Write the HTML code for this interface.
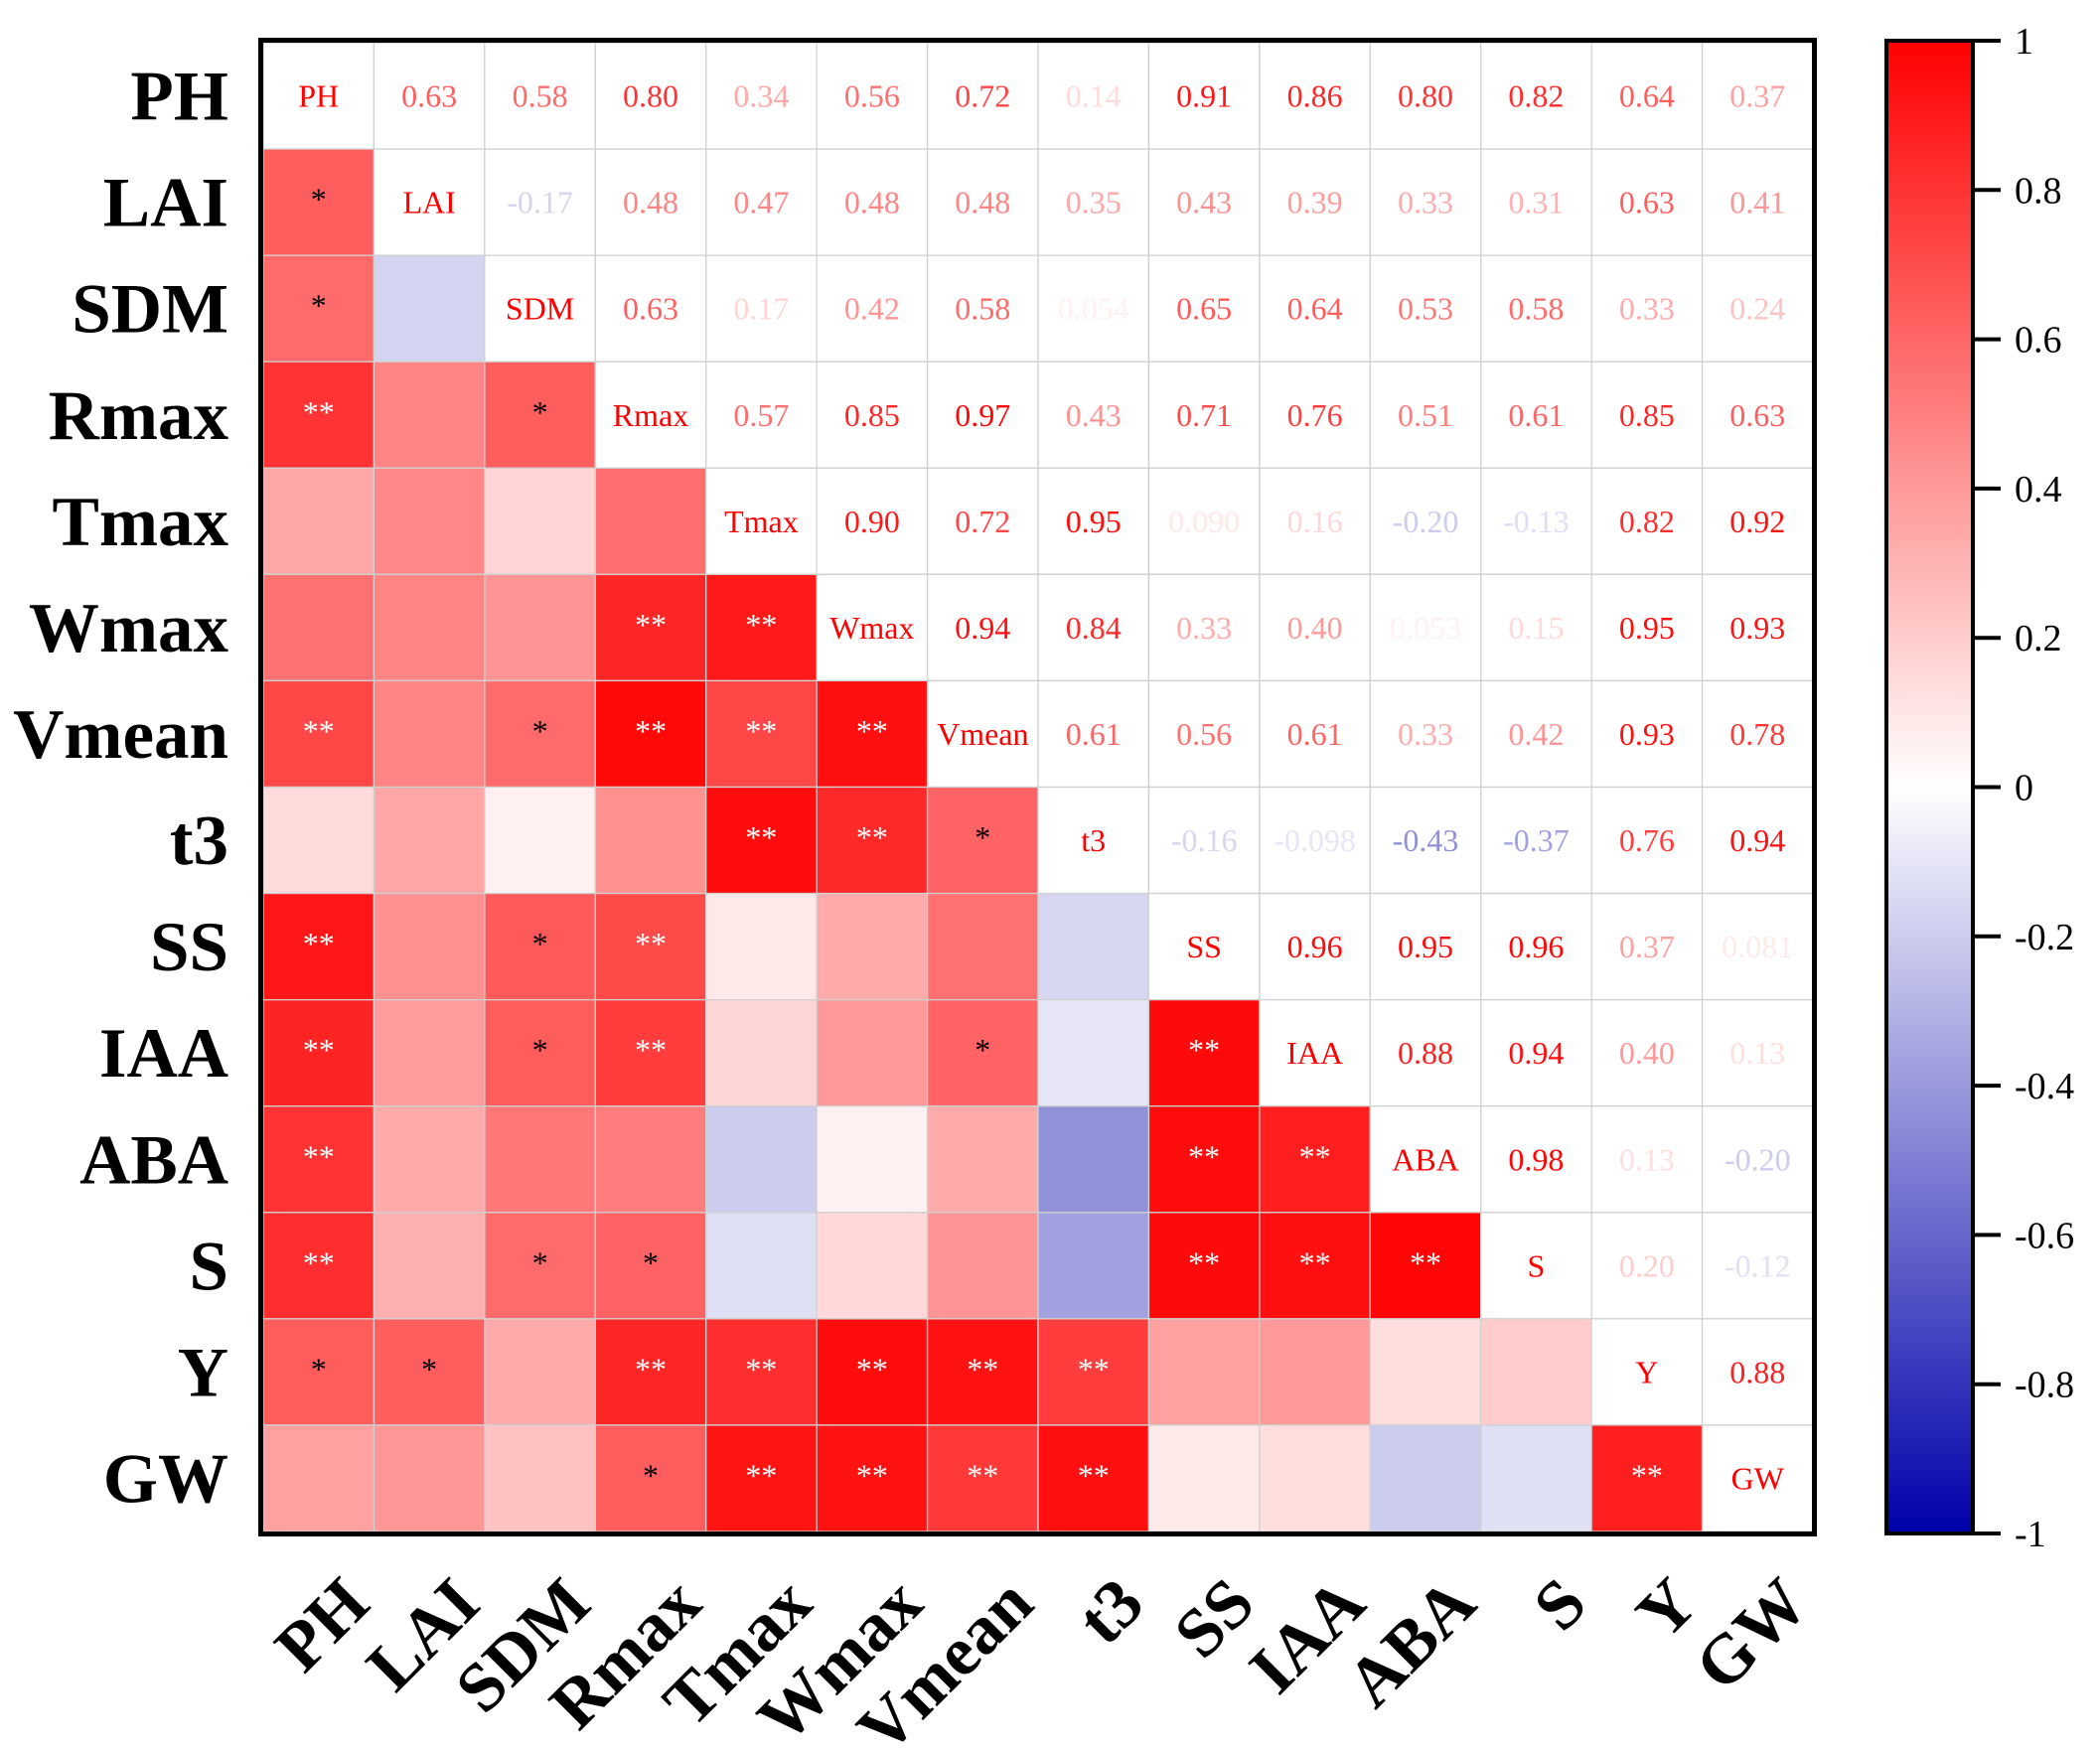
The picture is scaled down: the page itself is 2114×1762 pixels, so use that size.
<!DOCTYPE html>
<html><head><meta charset="utf-8">
<style>
html,body{margin:0;padding:0;background:#fff;}
svg{display:block;font-family:"Liberation Serif",serif;}
</style></head>
<body>
<svg id="chart" width="2114" height="1762" viewBox="0 0 2114 1762">
  <defs>
    <linearGradient id="cbar" x1="0" y1="0" x2="0" y2="1">
      <stop offset="0" stop-color="rgb(255,0,0)"/>
      <stop offset="0.5" stop-color="rgb(255,255,255)"/>
      <stop offset="1" stop-color="rgb(0,0,170)"/>
    </linearGradient>
  </defs>
  <g id="cells"></g>
  <g id="labels"></g>
  <rect x="262.5" y="40.5" width="1564" height="1504" fill="none" stroke="#000" stroke-width="5"/>
  <g id="colorbar">
    <rect x="1899" y="41" width="87" height="1503" fill="url(#cbar)" stroke="#000" stroke-width="4"/>
  </g>
</svg>
<script>
const vars = ["PH","LAI","SDM","Rmax","Tmax","Wmax","Vmean","t3","SS","IAA","ABA","S","Y","GW"];
const upperRows = [
  ["0.63","0.58","0.80","0.34","0.56","0.72","0.14","0.91","0.86","0.80","0.82","0.64","0.37"],
  ["-0.17","0.48","0.47","0.48","0.48","0.35","0.43","0.39","0.33","0.31","0.63","0.41"],
  ["0.63","0.17","0.42","0.58","0.054","0.65","0.64","0.53","0.58","0.33","0.24"],
  ["0.57","0.85","0.97","0.43","0.71","0.76","0.51","0.61","0.85","0.63"],
  ["0.90","0.72","0.95","0.090","0.16","-0.20","-0.13","0.82","0.92"],
  ["0.94","0.84","0.33","0.40","0.053","0.15","0.95","0.93"],
  ["0.61","0.56","0.61","0.33","0.42","0.93","0.78"],
  ["-0.16","-0.098","-0.43","-0.37","0.76","0.94"],
  ["0.96","0.95","0.96","0.37","0.081"],
  ["0.88","0.94","0.40","0.13"],
  ["0.98","0.13","-0.20"],
  ["0.20","-0.12"],
  ["0.88"]
];
// significance stars for lower triangle: [row, col, stars]
const stars = [
  [1,0,"*"],[2,0,"*"],[3,0,"**"],[3,2,"*"],[5,3,"**"],[5,4,"**"],
  [6,0,"**"],[6,2,"*"],[6,3,"**"],[6,4,"**"],[6,5,"**"],
  [7,4,"**"],[7,5,"**"],[7,6,"*"],
  [8,0,"**"],[8,2,"*"],[8,3,"**"],
  [9,0,"**"],[9,2,"*"],[9,3,"**"],[9,6,"*"],[9,8,"**"],
  [10,0,"**"],[10,8,"**"],[10,9,"**"],
  [11,0,"**"],[11,2,"*"],[11,3,"*"],[11,8,"**"],[11,9,"**"],[11,10,"**"],
  [12,0,"*"],[12,1,"*"],[12,3,"**"],[12,4,"**"],[12,5,"**"],[12,6,"**"],[12,7,"**"],
  [13,3,"*"],[13,4,"**"],[13,5,"**"],[13,6,"**"],[13,7,"**"],[13,12,"**"]
];
const cbTicks = [1,0.8,0.6,0.4,0.2,0,-0.2,-0.4,-0.6,-0.8,-1];

const NS="http://www.w3.org/2000/svg";
const X0=265, Y0=43, CW=(1825-265)/14, CH=(1542-43)/14;
const xPos = j => X0 + j*CW;
const yPos = i => Y0 + i*CH;
function color(v){
  let r,g,b;
  if(v>=0){r=255;g=Math.round(255*(1-v));b=g;}
  else{const t=-v;r=Math.round(255*(1-t));g=r;b=Math.round(255-85*t);}
  return `rgb(${r},${g},${b})`;
}
function val(i,j){ if(i===j) return 1; const a=Math.min(i,j), b=Math.max(i,j); return parseFloat(upperRows[a][b-a-1]); }
function mk(tag, attrs, parent){ const e=document.createElementNS(NS,tag); for(const k in attrs) e.setAttribute(k,attrs[k]); parent.appendChild(e); return e; }

const cells=document.getElementById('cells');
const labels=document.getElementById('labels');
const n=vars.length;
for(let i=0;i<n;i++){
  for(let j=0;j<n;j++){
    const v=val(i,j);
    const fill = (i>j)? color(v) : "#fff";
    const r=mk('rect',{x:xPos(j),y:yPos(i),width:CW,height:CH,fill:fill,stroke:"#d0d0d0","stroke-width":1.3},cells);
    
    
    if(i<=j){
      const txt = (i===j)? vars[i] : upperRows[i][j-i-1];
      const t=mk('text',{x:xPos(j)+CW/2,y:yPos(i)+CH/2+11,"text-anchor":"middle","font-size":32,fill:(i===j)?"rgb(255,0,0)":color(v)},cells);
      t.textContent=txt;
      
      
    }
  }
}
stars.forEach(s=>{
  const v=val(s[0],s[1]);
  const t=mk('text',{x:xPos(s[1])+CW/2,y:yPos(s[0])+CH/2+8,"text-anchor":"middle","font-size":32,fill:(v>0.7)?"#fff":"#000"},cells);
  t.textContent=s[2];
  
  
});
vars.forEach((name,i)=>{
  const t=mk('text',{x:230,y:yPos(i)+CH/2+24,"text-anchor":"end","font-size":71,"font-weight":"bold",fill:"#000"},labels);
  t.textContent=name;
  
  
  const cx=xPos(i)+CW/2+54, cy=1618;
  const c=mk('text',{x:cx,y:cy,"text-anchor":"end","font-size":70,"font-weight":"bold",fill:"#000",transform:`rotate(-45 ${cx} ${cy})`},labels);
  c.textContent=name;
  
  
});
const cb=document.getElementById('colorbar');
const cbY = v => 41 + (1-v)/2*1503;
cbTicks.forEach(v=>{
  const y=cbY(v);
  const l=mk('line',{x1:1986,x2:2014,y1:y,y2:y,stroke:"#000","stroke-width":4},cb);
  
  
  const t=mk('text',{x:2028,y:y+13,"font-size":38,fill:"#000"},cb);
  t.textContent=(v===1||v===0||v===-1)?String(v):v.toFixed(1);
  
  
});
</script>
</body></html>
